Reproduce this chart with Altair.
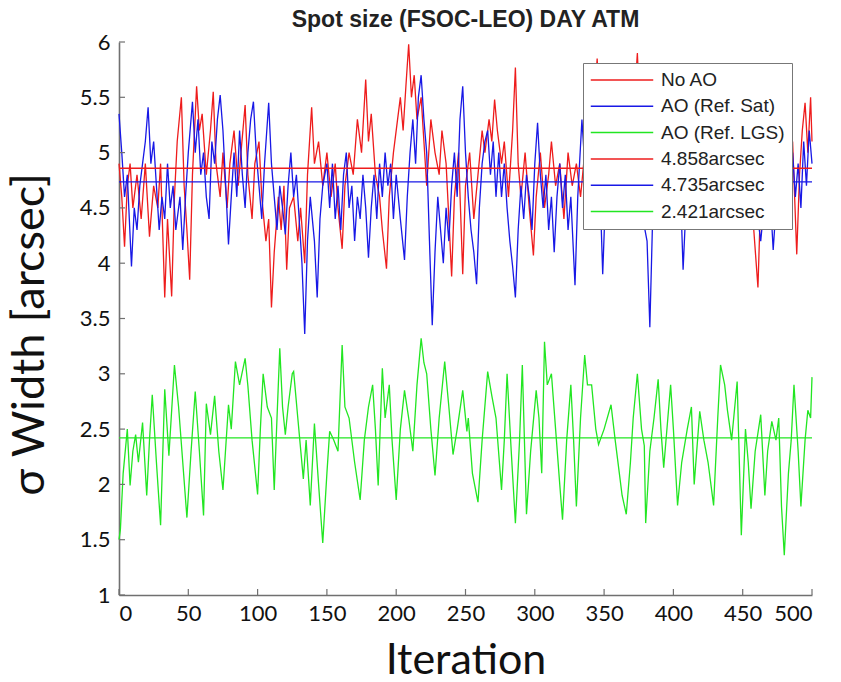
import altair as alt
import pandas as pd

chart_title = "Spot size (FSOC-LEO) DAY ATM"
series_names = ["No AO", "AO (Ref. Sat)", "AO (Ref. LGS)"]
mean_names = ["4.858arcsec", "4.735arcsec", "2.421arcsec"]
mean_values = [4.858, 4.735, 2.421]
series_colors = ["#ee1c1c", "#1818e6", "#22e622"]
x_ticks = [0, 50, 100, 150, 200, 250, 300, 350, 400, 450, 500]
y_ticks = [1, 1.5, 2, 2.5, 3, 3.5, 4, 4.5, 5, 5.5, 6]

# No AO (red) readings
red_iter = [0, 2, 4, 6, 8, 10, 13, 16, 19, 22,
            25, 28, 30, 33, 35, 38, 40, 42, 45, 47,
            49, 51, 53, 56, 58, 60, 63, 66, 68, 70,
            73, 75, 78, 80, 83, 86, 88, 91, 93, 96,
            98, 101, 103, 106, 108, 110, 112, 115, 117, 119,
            121, 123, 126, 129, 131, 134, 136, 139, 141, 144,
            147, 150, 153, 156, 158, 161, 163, 166, 169, 172,
            175, 178, 180, 182, 185, 188, 190, 193, 195, 198,
            201, 203, 205, 207, 209, 211, 213, 215, 218, 220,
            222, 225, 228, 231, 233, 236, 238, 240, 242, 245,
            248, 250, 253, 256, 259, 262, 264, 267, 269, 271,
            273, 276, 278, 281, 284, 286, 288, 290, 293, 296,
            299, 301, 304, 307, 310, 312, 315, 318, 321, 324,
            327, 330, 333, 336, 340, 343, 345, 348, 351, 354,
            357, 360, 363, 366, 369, 372, 374, 377, 380, 383,
            386, 389, 392, 395, 398, 401, 404, 407, 410, 413,
            416, 419, 422, 425, 428, 431, 434, 437, 440, 443,
            446, 449, 452, 455, 458, 461, 463, 466, 469, 472,
            475, 478, 481, 484, 486, 489, 491, 493, 495, 497,
            499, 500]
red_val = [4.9, 4.6, 4.15, 4.7, 4.9, 4.5, 4.8, 4.4, 4.9, 4.24,
           4.7, 4.5, 4.9, 3.69, 4.4, 3.7, 4.6, 5.1, 5.5, 4.7,
           4.3, 3.85, 4.8, 5.6, 5.2, 5.35, 4.8, 5.2, 5.55, 4.9,
           4.6, 5.0, 4.5, 4.9, 5.2, 4.7, 5.0, 5.43, 4.8, 4.4,
           4.9, 5.1, 4.6, 4.2, 4.4, 3.6, 4.1, 4.6, 4.3, 4.7,
           3.94, 4.5, 4.6, 4.2, 4.5, 4.0, 4.8, 5.41, 4.9, 5.1,
           4.7, 5.0, 4.6, 4.9, 4.5, 4.13, 4.7, 5.0, 4.8, 5.3,
           5.0, 5.66, 5.1, 5.35, 4.8, 4.6, 4.3, 3.95, 4.6, 5.0,
           5.3, 5.5, 5.2, 5.6, 5.98, 5.5, 5.7, 5.3, 5.5, 5.1,
           4.7, 5.3, 5.0, 4.8, 5.2, 4.9, 4.4, 3.88, 4.6, 5.0,
           3.9, 4.7, 5.0, 4.4, 4.8, 5.2, 5.0, 5.3, 5.1, 5.48,
           5.2, 4.9, 5.1, 4.6, 5.2, 5.77, 4.9, 4.6, 5.0, 4.5,
           4.07, 4.6, 5.0, 4.5, 4.8, 5.1, 4.7, 4.9, 4.4, 5.0,
           4.7, 4.9, 4.6, 5.0, 5.1, 5.5, 5.85, 5.0, 4.7, 5.2,
           4.6, 4.9, 5.3, 4.8, 5.1, 5.5, 5.9, 5.0, 4.8, 5.2,
           4.7, 4.5, 4.9, 5.2, 4.6, 4.9, 4.4, 4.8, 5.1, 4.7,
           5.0, 4.6, 4.9, 5.3, 4.8, 5.2, 5.77, 5.0, 4.6, 4.9,
           4.5, 4.8, 4.4, 4.7, 4.3, 3.78, 4.6, 5.0, 4.8, 4.5,
           4.9, 4.6, 5.0, 4.7, 5.1, 4.08, 4.8, 5.2, 5.45, 5.0,
           5.5, 5.1]

# AO (Ref. Sat) (blue) readings
blue_iter = [0, 2, 4, 6, 9, 11, 13, 15, 17, 19,
             21, 23, 25, 27, 29, 31, 33, 35, 37, 39,
             41, 44, 46, 48, 50, 53, 55, 57, 59, 61,
             63, 65, 67, 69, 71, 73, 75, 77, 79, 81,
             83, 85, 87, 89, 91, 93, 95, 97, 99, 101,
             103, 105, 108, 110, 112, 114, 116, 118, 120, 122,
             124, 126, 128, 130, 132, 134, 136, 138, 141, 143,
             145, 147, 150, 152, 154, 156, 158, 160, 162, 164,
             166, 168, 170, 172, 174, 176, 178, 180, 182, 184,
             186, 188, 190, 192, 194, 196, 198, 200, 203, 206,
             208, 210, 212, 214, 216, 218, 220, 222, 224, 226,
             228, 230, 232, 234, 236, 238, 240, 242, 244, 246,
             248, 250, 252, 254, 256, 258, 260, 262, 264, 266,
             268, 270, 272, 274, 276, 278, 280, 282, 284, 286,
             288, 290, 292, 294, 296, 298, 300, 302, 304, 306,
             308, 310, 312, 314, 316, 318, 320, 322, 324, 326,
             329, 331, 334, 336, 338, 341, 344, 347, 349, 351,
             354, 357, 360, 363, 366, 369, 372, 375, 378, 381,
             383, 385, 388, 391, 394, 397, 400, 403, 405, 407,
             409, 412, 415, 418, 421, 424, 427, 430, 433, 436,
             439, 442, 445, 448, 451, 454, 457, 460, 463, 466,
             469, 472, 474, 477, 480, 483, 486, 488, 490, 492,
             494, 496, 498, 500]
blue_val = [5.35, 5.0, 4.6, 4.8, 3.97, 4.5, 4.3, 4.7, 4.9, 5.1,
            5.41, 4.9, 5.1, 4.7, 4.3, 4.6, 4.4, 4.9, 4.5, 4.7,
            4.3, 4.6, 4.12, 4.6, 5.0, 5.46, 5.0, 5.3, 4.8, 5.0,
            4.6, 4.4, 5.1, 4.9, 5.3, 5.52, 5.2, 4.7, 4.17, 4.6,
            5.0, 4.6, 5.2, 4.8, 4.5, 5.0, 5.3, 5.46, 5.0, 4.7,
            4.4, 4.9, 5.45, 4.9, 4.6, 4.3, 4.7, 4.5, 4.26, 4.7,
            5.0, 4.6, 4.8, 4.4, 4.0, 3.36, 4.2, 4.6, 4.2, 3.69,
            4.4, 4.7, 4.9, 4.5, 4.9, 4.4, 4.7, 4.3, 4.8, 5.0,
            4.5, 4.7, 4.2, 4.6, 4.4, 4.8, 4.5, 4.05, 4.5, 4.8,
            4.4, 4.9, 4.6, 5.0, 4.7, 4.9, 4.4, 4.8, 4.4, 4.03,
            4.6, 5.0, 5.3, 4.9, 5.5, 5.7, 5.3, 5.0, 4.2, 3.44,
            4.1, 4.6, 4.3, 4.0, 4.5, 4.2, 4.7, 5.0, 4.6, 5.3,
            5.6, 5.0, 4.6, 4.3, 4.1, 3.81, 4.5, 4.9, 5.1, 5.2,
            4.8, 5.1, 4.6, 5.0, 4.6, 4.9, 4.5, 4.2, 3.97, 3.69,
            4.3, 4.7, 4.4, 4.8, 4.6, 4.3, 4.9, 5.27, 4.8, 4.5,
            4.8, 4.3, 4.6, 4.1, 4.6, 4.9, 4.5, 4.8, 4.3, 4.6,
            3.8, 4.6, 5.3, 4.9, 4.6, 4.8, 4.4, 4.7, 3.9, 4.6,
            4.9, 4.5, 4.8, 4.4, 4.9, 4.6, 5.0, 4.7, 4.4, 4.2,
            3.42, 4.4, 4.8, 4.5, 5.0, 4.6, 4.8, 4.4, 4.7, 3.94,
            4.5, 4.8, 4.6, 5.0, 4.7, 4.4, 4.8, 4.5, 4.9, 4.6,
            4.3, 4.7, 4.9, 4.5, 4.8, 4.4, 4.7, 4.5, 4.2, 4.6,
            4.8, 4.12, 4.5, 4.8, 4.4, 4.9, 5.0, 4.6, 4.9, 4.5,
            5.1, 4.7, 5.2, 4.9]

# AO (Ref. LGS) (green) readings
green_iter = [0, 1, 3, 6, 8, 10, 12, 14, 17, 20,
              22, 24, 27, 30, 33, 36, 40, 43, 46, 49,
              52, 55, 58, 61, 63, 66, 69, 72, 75, 79,
              81, 84, 87, 91, 93, 96, 100, 102, 104, 107,
              110, 112, 114, 116, 118, 120, 122, 125, 126, 129,
              133, 135, 138, 141, 144, 147, 150, 152, 155, 158,
              161, 163, 166, 170, 174, 177, 180, 183, 185, 187,
              190, 192, 195, 197, 200, 203, 206, 209, 212, 215,
              218, 220, 222, 225, 228, 231, 235, 238, 241, 244,
              248, 251, 252, 255, 259, 262, 266, 269, 272, 276,
              278, 280, 283, 286, 289, 291, 294, 297, 301, 303,
              305, 307, 309, 312, 315, 318, 320, 323, 326, 328,
              330, 333, 336, 338, 341, 344, 346, 350, 355, 358,
              361, 363, 366, 369, 371, 374, 377, 379, 380, 383,
              386, 389, 391, 393, 396, 398, 400, 403, 406, 410,
              413, 415, 419, 422, 425, 429, 432, 434, 437, 439,
              442, 446, 449, 452, 454, 456, 459, 463, 466, 468,
              471, 474, 476, 478, 480, 483, 485, 487, 490, 492,
              495, 497, 499, 500]
green_val = [1.5, 1.59, 2.1, 2.5, 1.99, 2.3, 2.45, 2.2, 2.56, 1.9,
             2.4, 2.81, 2.2, 1.63, 2.86, 2.26, 3.08, 2.7, 2.2, 1.7,
             2.3, 2.84, 2.3, 1.72, 2.73, 2.45, 2.8, 2.3, 1.95, 2.72,
             2.5, 3.11, 2.9, 3.14, 2.89, 2.4, 1.91, 2.5, 3.0, 2.7,
             2.6, 1.95, 2.6, 3.23, 2.7, 2.45, 2.7, 3.0, 3.02, 2.6,
             2.05, 2.4, 1.81, 2.55, 2.0, 1.47, 2.1, 2.48, 2.4, 2.3,
             3.26, 2.7, 2.6, 2.2, 1.86, 2.4, 2.7, 2.9, 2.5, 1.99,
             3.05, 2.6, 2.9, 2.4, 1.86, 2.5, 2.85, 2.6, 2.3, 2.9,
             3.32, 3.1, 3.0, 2.5, 2.08, 2.6, 3.11, 2.7, 2.27, 2.5,
             2.85, 2.48, 2.6, 2.1, 1.84, 2.4, 3.02, 2.8, 2.6, 1.95,
             2.4, 3.0, 2.3, 1.65, 2.4, 3.08, 1.73, 2.3, 2.85, 2.6,
             2.1, 3.29, 2.9, 3.0, 2.5, 2.0, 1.68, 2.4, 2.9, 2.4,
             1.8, 2.6, 3.17, 2.9, 2.9, 2.5, 2.36, 2.5, 2.72, 2.4,
             2.1, 1.9, 1.73, 2.2, 2.6, 3.0, 2.5, 2.35, 1.65, 2.3,
             2.6, 2.95, 2.5, 2.15, 2.6, 2.9, 2.5, 1.81, 2.2, 2.5,
             2.7, 2.0, 2.66, 2.4, 2.2, 1.81, 2.6, 3.08, 2.9, 2.67,
             2.4, 2.93, 1.54, 2.5, 2.2, 1.78, 2.3, 2.63, 1.9, 2.3,
             2.57, 2.4, 2.6, 1.8, 1.36, 2.1, 2.4, 2.9, 2.3, 1.8,
             2.4, 2.67, 2.6, 2.97]

W, H = 693, 553

def series_frame(name, its, vals):
    df = pd.DataFrame({"iteration": its, "value": vals})
    df["series"] = name
    return df

red_df = series_frame(series_names[0], red_iter, red_val)
blue_df = series_frame(series_names[1], blue_iter, blue_val)
green_df = series_frame(series_names[2], green_iter, green_val)
means_df = pd.DataFrame({"series": mean_names, "value": mean_values})
xt_df = pd.DataFrame({"iteration": x_ticks})
yt_df = pd.DataFrame({"value": y_ticks})

color_scale = alt.Scale(domain=series_names + mean_names, range=series_colors + series_colors)
legend = alt.Legend(
    title=None, orient="none", legendX=464, legendY=21,
    symbolType="stroke", symbolSize=3900, symbolStrokeWidth=1.5,
    clipHeight=20, rowPadding=6.3, padding=7, labelOffset=7,
    labelFont="Liberation Sans", labelFontSize=19, labelColor="#222222",
    fillColor="white", strokeColor="#777777",
)
color_enc = alt.Color("series:N", scale=color_scale, legend=legend)

x_scale = alt.Scale(domain=[0, 500], nice=False, zero=False)
y_scale = alt.Scale(domain=[1, 6], nice=False, zero=False)
x_axis = alt.Axis(values=x_ticks, title="Iteration", titleX=W / 2, titleY=78,
                  titleBaseline="alphabetic", titleFontSize=43, labelPadding=8)
y_axis = alt.Axis(values=y_ticks, format="~g", title="σ Width [arcsec]",
                  titleAngle=270, titleX=-76, titleY=292, titleAlign="center",
                  titleBaseline="alphabetic", titleFontSize=45, labelPadding=9)

X = alt.X("iteration:Q", scale=x_scale, axis=x_axis)
Y = alt.Y("value:Q", scale=y_scale, axis=y_axis)

def line_layer(df):
    return alt.Chart(df).mark_line(strokeWidth=1.3).encode(x=X, y=Y, color=color_enc)

means = alt.Chart(means_df).mark_rule(strokeWidth=1.4).encode(y=Y, color=color_enc)

x_tick_marks = alt.Chart(xt_df).mark_rule(color="#707070", strokeWidth=1.2).encode(
    x=X, y=alt.value(H), y2=alt.value(H - 6),
)
y_tick_marks = alt.Chart(yt_df).mark_rule(color="#707070", strokeWidth=1.2).encode(
    y=Y, x=alt.value(0), x2=alt.value(6),
)

chart = alt.layer(
    line_layer(red_df), line_layer(blue_df), line_layer(green_df), means,
    x_tick_marks, y_tick_marks,
).properties(
    width=W, height=H,
    title=alt.TitleParams(chart_title, font="Liberation Sans", fontSize=23,
                          fontWeight="bold", color="#222222", anchor="middle",
                          frame="group", baseline="alphabetic", offset=11, dy=30),
    padding={"left": 119, "top": 42, "right": 29, "bottom": 87},
    autosize=alt.AutoSizeParams(type="none"),
).configure_view(stroke=None).configure_axis(
    grid=False, domainColor="#707070", domainWidth=1.6, tickSize=0,
    labelFont="Lato", labelFontSize=22, labelColor="#111111",
    titleFont="Lato", titleFontWeight="normal", titleColor="#111111",
)

chart.save("out.html", embed_options={"renderer": "svg", "actions": False})
